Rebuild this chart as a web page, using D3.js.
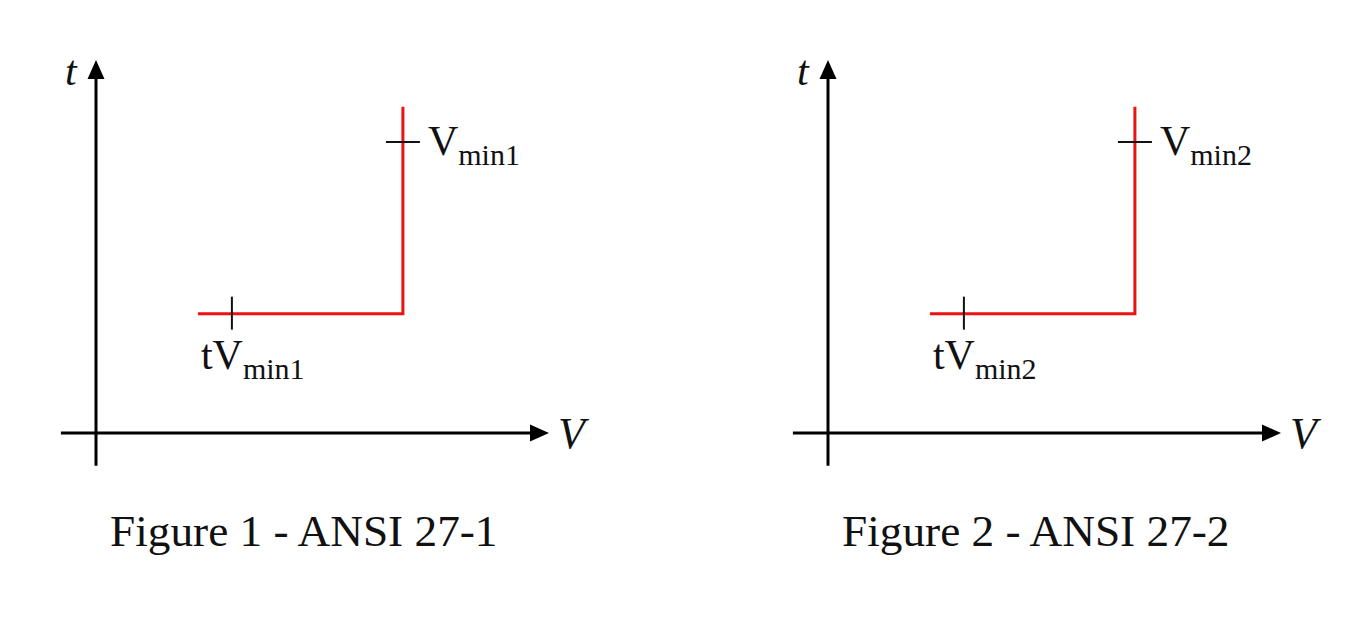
<!DOCTYPE html>
<html>
<head>
<meta charset="utf-8">
<script src="https://cdn.jsdelivr.net/npm/d3@7"></script>
<style>
  html, body { margin: 0; padding: 0; background: #fff; }
  svg { display: block; }
  text { font-family: "Liberation Serif", "Times New Roman", serif; fill: #111; }
</style>
</head>
<body>
<svg id="chart" width="1365" height="618"></svg>
<script>
// ---- data ----
const figures = ["Figure 1 - ANSI 27-1", "Figure 2 - ANSI 27-2"];
const levelNames = ["min1", "min2"];
// characteristic: start voltage, tick voltage (tV label), threshold voltage Vmin
const curveVoltage = [2.7, 8.13];      // horizontal run from V=2.7 to Vmin
const tickVoltage = [3.6, 3.6];        // tick marker on the delay segment
const vminVoltage = [8.13, 8.13];      // Vmin
const delayTime = [3.2, 3.2];          // tVmin
const vminMarkTime = [7.8, 7.8];       // tick on the vertical segment
const curveTopTime = [8.75, 8.75];
const axisX = ["V"];
const axisY = ["t"];

// ---- layout ----
const svg = d3.select("#chart");
const panelOrigins = [96, 828];
const W = 453, H = 373, axisY0 = 433;

figures.forEach((title, i) => {
  const ox = panelOrigins[i];
  const x = d3.scaleLinear().domain([0, 12]).range([ox, ox + W]);
  const y = d3.scaleLinear().domain([0, 10]).range([axisY0, axisY0 - H]);
  const g = svg.append("g");

  // axes
  g.append("line").attr("x1", x(-0.93)).attr("x2", x(12) - 16)
    .attr("y1", y(0)).attr("y2", y(0)).attr("stroke", "#000").attr("stroke-width", 3);
  g.append("line").attr("x1", x(0)).attr("x2", x(0))
    .attr("y1", y(-0.88)).attr("y2", y(10) + 16).attr("stroke", "#000").attr("stroke-width", 3);
  // arrowheads
  g.append("path")
    .attr("d", `M${x(12)},${y(0)} L${x(12) - 19},${y(0) - 8.5} L${x(12) - 19},${y(0) + 8.5} Z`)
    .attr("fill", "#000");
  g.append("path")
    .attr("d", `M${x(0)},${y(10)} L${x(0) - 8.5},${y(10) + 19} L${x(0) + 8.5},${y(10) + 19} Z`)
    .attr("fill", "#000");
  // axis labels
  g.append("text").attr("x", x(12) + 9).attr("y", y(0) + 15)
    .attr("font-size", 44).attr("font-style", "italic").text(axisX[0]);
  g.append("text").attr("x", x(0) - 31).attr("y", y(10) + 25)
    .attr("font-size", 42).attr("font-style", "italic").text(axisY[0]);

  // red characteristic
  const pts = [
    [curveVoltage[0], delayTime[i]],
    [vminVoltage[i], delayTime[i]],
    [vminVoltage[i], curveTopTime[i]]
  ];
  g.append("path")
    .attr("d", d3.line().x(d => x(d[0])).y(d => y(d[1]))(pts))
    .attr("fill", "none").attr("stroke", "#ee1111").attr("stroke-width", 3);

  // tick marks
  g.append("line").attr("x1", x(tickVoltage[i])).attr("x2", x(tickVoltage[i]))
    .attr("y1", y(delayTime[i]) - 17).attr("y2", y(delayTime[i]) + 16)
    .attr("stroke", "#111").attr("stroke-width", 2);
  g.append("line").attr("x1", x(vminVoltage[i]) - 17).attr("x2", x(vminVoltage[i]) + 17)
    .attr("y1", y(vminMarkTime[i])).attr("y2", y(vminMarkTime[i]))
    .attr("stroke", "#111").attr("stroke-width", 2);

  // labels
  const t1 = g.append("text").attr("x", x(vminVoltage[i]) + 25).attr("y", y(vminMarkTime[i]) + 13)
    .attr("font-size", 42);
  t1.append("tspan").text("V");
  t1.append("tspan").attr("font-size", 30).attr("dy", 10).text(levelNames[i]);

  const t2 = g.append("text").attr("x", x(tickVoltage[i]) - 31).attr("y", y(delayTime[i]) + 55)
    .attr("font-size", 42);
  t2.append("tspan").text("tV");
  t2.append("tspan").attr("font-size", 30).attr("dy", 10).text(levelNames[i]);

  // caption
  g.append("text").attr("x", ox + 14).attr("y", 546).attr("font-size", 45.3).text(title);
});
</script>
</body>
</html>
